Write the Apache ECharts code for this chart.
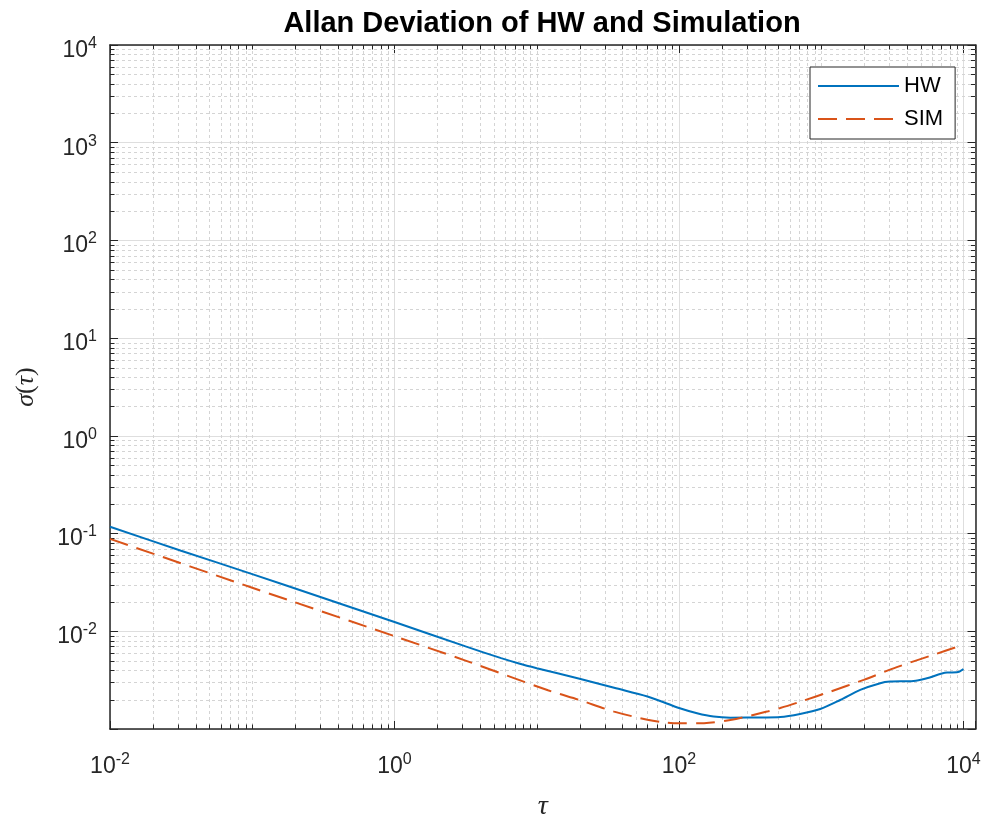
<!DOCTYPE html>
<html>
<head>
<meta charset="utf-8">
<script src="https://cdn.jsdelivr.net/npm/echarts@6/dist/echarts.min.js"></script>
<style>
html,body{margin:0;padding:0;background:#fff;}
#chart{width:985px;height:815px;}
</style>
</head>
<body>
<div id="chart"></div>
<script>
// ---- data (tau in s, sigma) ----
const tauHW   = [0.01, 0.0316, 0.1, 0.316, 1, 3.16, 5.62, 7.5, 10, 14, 20, 35, 60, 78, 100, 134, 175, 230, 390, 515, 710, 985, 1360, 1880, 2600, 3050, 4460, 5530, 7660, 9000, 10000];
const sigmaHW = [0.1175, 0.0668, 0.0385, 0.02188, 0.01245, 0.0070, 0.00531, 0.00468, 0.00419, 0.00372, 0.00327, 0.00264, 0.00215, 0.00188, 0.00164, 0.00145, 0.00134, 0.001306, 0.001312, 0.001324, 0.001426, 0.001603, 0.00198, 0.002512, 0.002944, 0.003055, 0.003105, 0.003311, 0.003776, 0.0038, 0.004093];
const tauSIM   = [0.01, 0.1, 1, 3.16, 12, 20, 35, 60, 78, 100, 150, 230, 415, 515, 710, 1160, 1990, 3400, 5850, 10000];
const sigmaSIM = [0.0883, 0.0279, 0.00891, 0.00501, 0.00249, 0.00198, 0.001507, 0.001245, 0.00117, 0.001143, 0.001148, 0.001236, 0.001507, 0.00164, 0.0019, 0.002415, 0.003184, 0.004295, 0.00561, 0.00728];

const seriesNames = ['HW', 'SIM'];
const titleText = 'Allan Deviation of HW and Simulation';

// axis ranges (as exponents of 10)
const xMinExp = -2, xMaxExp = Math.log10(12150), xTickStep = 2;
const yMinExp = -3, yMaxExp = 4, yTickStep = 1;
const xMinorDecades = [-2, -1, 0, 1, 2, 3];
const yMinorDecades = [-3, -2, -1, 0, 1, 2, 3];
const minorMultipliers = [2, 3, 4, 5, 6, 7, 8, 9];
const xOddDecades = [-1, 1, 3]; // unlabeled decades on x drawn as minor

// ---- build ----
const toLog = (t, s) => t.map((v, i) => [Math.log10(v), Math.log10(s[i])]);
const xMinor = [];
xMinorDecades.forEach(d => minorMultipliers.forEach(m => xMinor.push([Math.log10(m) + d, yMinExp])));
xOddDecades.forEach(d => xMinor.push([d, yMinExp]));
const yMinor = [];
yMinorDecades.forEach(d => minorMultipliers.forEach(m => yMinor.push([xMinExp, Math.log10(m) + d])));

const AX = '#262626';
const FONT = 'Liberation Sans';
const isInt = v => Math.abs(v - Math.round(v)) < 1e-9;

const richLab = {
  b: {fontSize: 23, fontFamily: FONT, color: AX, lineHeight: 26, padding: [4, 0, 0, 0]},
  s: {fontSize: 16, fontFamily: FONT, color: AX, lineHeight: 16, verticalAlign: 'top'}
};
const expFmt = skip => v => (isInt(v) && Math.round(v) !== skip) ? '{b|10}{s|' + Math.round(v) + '}' : '';

const snap = v => Math.round(v) + 0.5;
const minorGridStyle = {stroke: '#d4d4d4', lineWidth: 1, lineDash: [3, 3]};
const minorTickStyle = {stroke: AX, lineWidth: 1};

function renderXMinor(params, api) {
  const v = api.value(0);
  const b = api.coord([v, yMinExp]);
  const t = api.coord([v, yMaxExp]);
  const x = snap(b[0]);
  return {type: 'group', children: [
    {type: 'line', shape: {x1: x, y1: t[1], x2: x, y2: b[1]}, style: minorGridStyle},
    {type: 'line', shape: {x1: x, y1: b[1], x2: x, y2: b[1] - 4.5}, style: minorTickStyle},
    {type: 'line', shape: {x1: x, y1: t[1], x2: x, y2: t[1] + 4.5}, style: minorTickStyle}
  ]};
}
function renderYMinor(params, api) {
  const v = api.value(1);
  const l = api.coord([xMinExp, v]);
  const r = api.coord([xMaxExp, v]);
  const y = snap(l[1]);
  return {type: 'group', children: [
    {type: 'line', shape: {x1: l[0], y1: y, x2: r[0], y2: y}, style: minorGridStyle},
    {type: 'line', shape: {x1: l[0], y1: y, x2: l[0] + 4.5, y2: y}, style: minorTickStyle},
    {type: 'line', shape: {x1: r[0], y1: y, x2: r[0] - 4.5, y2: y}, style: minorTickStyle}
  ]};
}

const axisLine = {show: true, onZero: false, lineStyle: {color: AX, width: 1.5}};
const axisTick = {show: true, inside: true, length: 8, lineStyle: {color: AX, width: 1}};
const majorGrid = {show: true, lineStyle: {color: '#dedede', width: 1}};

const chart = echarts.init(document.getElementById('chart'), null, {renderer: 'canvas'});
chart.setOption({
  animation: false,
  backgroundColor: '#ffffff',
  title: {
    text: titleText, left: 537, top: 4, textAlign: 'center',
    textStyle: {fontFamily: FONT, fontSize: 29, fontWeight: 'bold', color: '#000'}
  },
  grid: {left: 110, right: 9.5, top: 45, bottom: 86, containLabel: false, outerBoundsMode: 'none'},
  legend: {
    data: seriesNames, orient: 'vertical', left: 810, top: 67,
    padding: [8, 12, 9, 7], itemGap: 11, itemWidth: 81, itemHeight: 14,
    itemStyle: {opacity: 0},
    backgroundColor: '#fff', borderColor: AX, borderWidth: 1, borderRadius: 0,
    textStyle: {fontFamily: FONT, fontSize: 22, color: '#000'}
  },
  xAxis: [{
    type: 'value', position: 'bottom', min: xMinExp, max: xMaxExp, interval: xTickStep,
    axisLine: axisLine, axisTick: axisTick, splitLine: majorGrid,
    axisLabel: {formatter: expFmt(null), rich: richLab, margin: 23, showMinLabel: true, showMaxLabel: true},
    name: 'τ', nameLocation: 'middle', nameGap: 64,
    nameTextStyle: {fontFamily: 'Liberation Serif', fontStyle: 'italic', fontSize: 28, color: AX}
  }, {
    type: 'value', position: 'top', min: xMinExp, max: xMaxExp, interval: xTickStep,
    axisLine: axisLine, axisTick: axisTick, splitLine: {show: false}, axisLabel: {show: false}
  }],
  yAxis: [{
    type: 'value', position: 'left', min: yMinExp, max: yMaxExp, interval: yTickStep,
    axisLine: axisLine, axisTick: axisTick, splitLine: majorGrid,
    axisLabel: {formatter: expFmt(yMinExp), rich: richLab, margin: 13, padding: [7, 0, 0, 0]},
    name: '{g|σ}{p|(}{g|τ}{p|)}', nameLocation: 'middle', nameGap: 71, nameRotate: 90,
    nameTextStyle: {
      rich: {
        g: {fontFamily: 'Liberation Serif', fontStyle: 'italic', fontSize: 26, color: AX},
        p: {fontFamily: 'Liberation Serif', fontSize: 26, color: AX}
      }
    }
  }, {
    type: 'value', position: 'right', min: yMinExp, max: yMaxExp, interval: yTickStep,
    axisLine: axisLine, axisTick: axisTick, splitLine: {show: false}, axisLabel: {show: false}
  }],
  series: [
    {type: 'custom', name: 'xminor', silent: true, z: 1, xAxisIndex: 0, yAxisIndex: 0,
     renderItem: renderXMinor, data: xMinor, clip: false},
    {type: 'custom', name: 'yminor', silent: true, z: 1, xAxisIndex: 0, yAxisIndex: 0,
     renderItem: renderYMinor, data: yMinor, clip: false},
    {type: 'line', name: seriesNames[0], data: toLog(tauHW, sigmaHW), symbol: 'none', z: 3,
     smooth: 0.3, lineStyle: {color: '#0072BD', width: 2}, itemStyle: {color: '#0072BD'}},
    {type: 'line', name: seriesNames[1], data: toLog(tauSIM, sigmaSIM), symbol: 'none', z: 3,
     smooth: 0.3, lineStyle: {color: '#D95319', width: 2, type: [19, 9]}, itemStyle: {color: '#D95319'}}
  ]
});
</script>
</body>
</html>
